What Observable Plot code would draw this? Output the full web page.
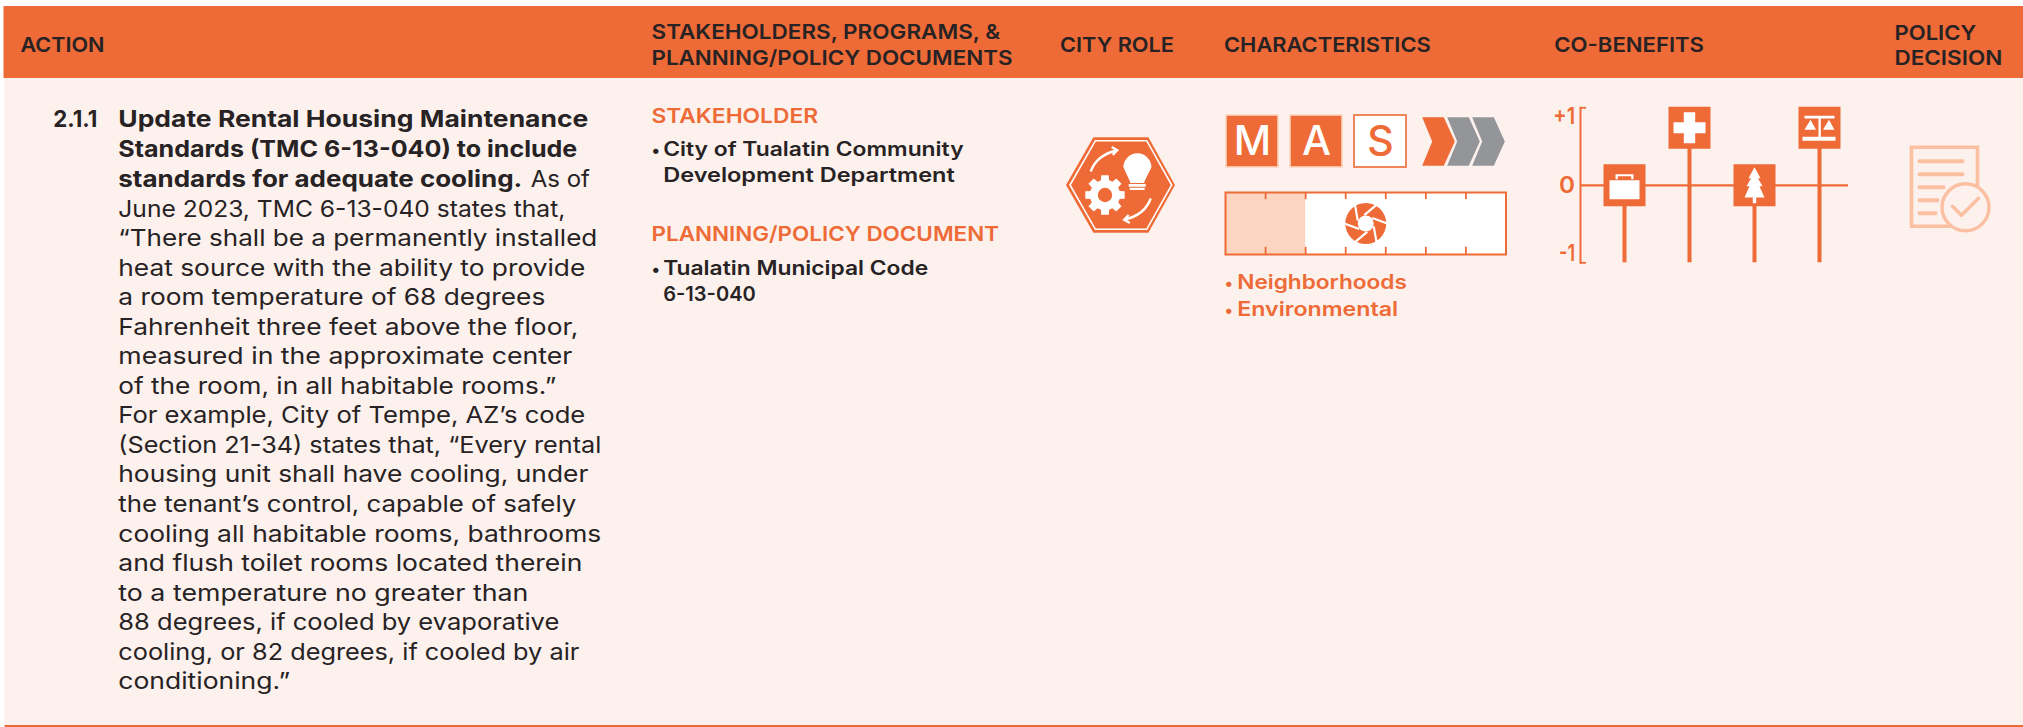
<!DOCTYPE html>
<html><head><meta charset="utf-8">
<script src="https://cdn.jsdelivr.net/npm/d3@7"></script>
<script src="https://cdn.jsdelivr.net/npm/@observablehq/plot@0.6"></script>
<style>
html,body{margin:0;padding:0;background:#fff;overflow:hidden}
#page{position:relative;width:2023px;height:727px}
#page>svg{position:absolute}
text{font-family:Inter,"Open Sans",sans-serif}
</style></head><body><div id="page"></div>
<script>
const ORANGE="#ee6a36", BODY="#fcf1ec", INK="#272224", PALE="#fbd5c0", FAINT="#fbc0a2", GREY="#949598";

const headerSingle=["ACTION","CITY ROLE","CHARACTERISTICS","CO-BENEFITS"];
const headerStake=["STAKEHOLDERS, PROGRAMS, &","PLANNING/POLICY DOCUMENTS"];
const headerPolicy=["POLICY","DECISION"];
const actionNumber="2.1.1";
const actionBold=["Update Rental Housing Maintenance","Standards (TMC 6-13-040) to include","standards for adequate cooling."];
const actionAsOf="As of";
const actionBody=["June 2023, TMC 6-13-040 states that,","“There shall be a permanently installed","heat source with the ability to provide","a room temperature of 68 degrees","Fahrenheit three feet above the floor,","measured in the approximate center","of the room, in all habitable rooms.”","For example, City of Tempe, AZ’s code","(Section 21-34) states that, “Every rental","housing unit shall have cooling, under","the tenant’s control, capable of safely","cooling all habitable rooms, bathrooms","and flush toilet rooms located therein","to a temperature no greater than","88 degrees, if cooled by evaporative","cooling, or 82 degrees, if cooled by air","conditioning.”"];
const stakeholderLines=["City of Tualatin Community","Development Department"];
const documentLines=["Tualatin Municipal Code","6-13-040"];
const focusAreas=["Neighborhoods","Environmental"];
const scaleLetters=["M","A","S"];
const scaleActive=[true,true,false];
const stages=["first","second","third"];
const stageActive=[true,false,false];
const timelineSegments=7, timelineFilled=2, timelineMarker=3.5;
const benefitNames=["Economy","Health","Environment","Equity"];
const benefitValues=[0,1,0,1];

// Montserrat is not installed: each line is fitted to the width it has in the reference
const fitWidths=new Map(Object.entries({
 "ACTION":84,"CITY ROLE":114,"CHARACTERISTICS":206.7,"CO-BENEFITS":149.7,"STAKEHOLDERS, PROGRAMS, &":348.6,"PLANNING/POLICY DOCUMENTS":361,"POLICY":81.7,"DECISION":107.7,
 "2.1.1":44,"Update Rental Housing Maintenance":470,"Standards (TMC 6-13-040) to include":459,"standards for adequate cooling.":404,"As of":59.3,
 "June 2023, TMC 6-13-040 states that,":447,"“There shall be a permanently installed":479,"heat source with the ability to provide":467,"a room temperature of 68 degrees":427,"Fahrenheit three feet above the floor,":460,"measured in the approximate center":454,"of the room, in all habitable rooms.”":438,"For example, City of Tempe, AZ’s code":467,"(Section 21-34) states that, “Every rental":483,"housing unit shall have cooling, under":470,"the tenant’s control, capable of safely":458,"cooling all habitable rooms, bathrooms":483,"and flush toilet rooms located therein":464,"to a temperature no greater than":410,"88 degrees, if cooled by evaporative":441,"cooling, or 82 degrees, if cooled by air":461,"conditioning.”":172,
 "STAKEHOLDER":166.5,"PLANNING/POLICY DOCUMENT":347.5,"City of Tualatin Community":300.4,"Development Department":291.6,"Tualatin Municipal Code":265,"6-13-040":92.6,"Neighborhoods":169.7,"Environmental":161,
 "+1":21.7,"0":16,"-1":16
}));
const fit=svg=>svg.querySelectorAll("text").forEach(t=>{
  const w=fitWidths.get(t.textContent);
  if(w){t.setAttribute("textLength",w);t.setAttribute("lengthAdjust","spacingAndGlyphs");}
});

function poly(ctx,pts){pts.forEach((p,i)=>i?ctx.lineTo(p[0],p[1]):ctx.moveTo(p[0],p[1]));ctx.closePath();}
function rectp(ctx,a,b,c,d){poly(ctx,[[a,b],[c,b],[c,d],[a,d]]);}
const sym=(draw)=>({draw});

// city role icon, units are px relative to centre
const hexOuter=sym(c=>poly(c,[[-54.7,0],[-27.3,-47.7],[27.7,-47.7],[54.3,0],[27.7,47.7],[-27.3,47.7]]));
const hexInner=sym(c=>poly(c,[[-50.7,0],[-25.3,-44.3],[26,-44.3],[51,0],[26,44.3],[-25.3,44.3]]));
const bulb=sym(c=>{c.moveTo(2.7,-17.7);c.arc(16.7,-17.7,14,Math.PI,0.0,false);c.lineTo(23.5,-3);c.lineTo(24,-2);c.lineTo(9.5,-2);c.lineTo(9.5,-3);c.closePath();rectp(c,8,-1,25,1.8);rectp(c,9,2.8,24,5);});
const gear=sym(c=>{const n=8,R=20,r=15.2,pts=[];for(let i=0;i<n;i++){const a=i*2*Math.PI/n-Math.PI/2;[[-0.27,r],[-0.19,R],[0.19,R],[0.27,r]].forEach(([d,q])=>pts.push([q*Math.cos(a+d),q*Math.sin(a+d)]));}poly(c,pts);});
const arcTop=sym(c=>{c.moveTo(-30,-13.5);c.quadraticCurveTo(-24,-30,-4,-34.5);c.moveTo(-9,-38);c.lineTo(-3.5,-34.7);c.lineTo(-8,-30);});
const arcBottom=sym(c=>{c.moveTo(30,13.5);c.quadraticCurveTo(24,30,4,34.5);c.moveTo(9,38);c.lineTo(3.5,34.7);c.lineTo(8,30);});

// policy decision icon, relative to the check circle centre
const docOutline=sym(c=>{c.moveTo(-7,19);c.lineTo(-54,19);c.lineTo(-54,-60);c.lineTo(12,-60);c.lineTo(12,-20);});
const docLines=sym(c=>{[[-46,-3,-46],[-46,-3,-33],[-46,-22,-20],[-46,-28,-7],[-46,-30,6]].forEach(([a,b,y])=>{c.moveTo(a,y);c.lineTo(b,y);});});
const checkMark=sym(c=>{c.moveTo(-13,-1);c.lineTo(-4,8);c.lineTo(13,-9);});

// co-benefit glyphs, relative to box centre
const briefcase=sym(c=>{rectp(c,-15,-5,15,14);rectp(c,-9,-11,9,-6);poly(c,[[-6.7,-9],[-6.7,-6],[6.7,-6],[6.7,-9]]);});
const cross=sym(c=>{poly(c,[[-5.7,-15.5],[5.7,-15.5],[5.7,-5.5],[16,-5.5],[16,5.5],[5.7,5.5],[5.7,15.5],[-5.7,15.5],[-5.7,5.5],[-16,5.5],[-16,-5.5],[-5.7,-5.5]]);});
const tree=sym(c=>{poly(c,[[0,-18],[6,-7],[3.5,-7],[8,1],[5,1],[10,12.3],[1.7,12.3],[1.7,18],[-1.7,18],[-1.7,12.3],[-10,12.3],[-5,1],[-8,1],[-3.5,-7],[-6,-7]]);});
const justice=sym(c=>{rectp(c,-15,-12,15,-9.3);rectp(c,-1,-9.3,1.3,9);rectp(c,-17,9,16,13);poly(c,[[-9,-8],[-3.5,2],[-15,2]]);poly(c,[[9.5,-8],[15,2],[3.5,2]]);});
const benefitGlyphs={Economy:briefcase,Health:cross,Environment:tree,Equity:justice};
// timeline marker
const blades=sym(c=>{const n=6,r=8.5,R=21;for(let i=0;i<n;i++){const a=i*Math.PI/3+0.35,b=a+Math.PI/3;const x=r*Math.cos(a),y=r*Math.sin(a);c.moveTo(x,y);c.lineTo(x+R*Math.cos(b),y+R*Math.sin(b));}});
const chevron=sym(c=>poly(c,[[-16.3,-24.2],[5.3,-24.2],[16.3,0],[5.3,24.2],[-16.3,24.2],[-6.3,0]]));

const page=document.getElementById("page");
function place(svg,left,top){svg.style.left=left+"px";svg.style.top=top+"px";page.appendChild(svg);fit(svg);}
const clear={background:"transparent",overflow:"visible"};

// Sheet: header band, body panel and every block of text
const lineY=(start,step)=>(d,i)=>start+i*step;
const T=(data,o)=>Plot.text(data,{text:d=>d,lineAnchor:"bottom",textAnchor:"start",...o});
const HEAD={fontSize:20.5,fontWeight:600,fill:INK};
const LIST={fontSize:20,fontWeight:600};
const sheet=Plot.plot({
  width:2023,height:727,margin:0,style:clear,
  x:{domain:[0,2023],range:[0,2023],axis:null},
  y:{domain:[0,727],range:[0,727],axis:null},
  marks:[
    Plot.rect([0],{x1:4.5,x2:2023,y1:78,y2:725,fill:BODY}),
    Plot.rect([0],{x1:3.5,x2:2023,y1:6,y2:78,fill:ORANGE}),
    Plot.rect([0],{x1:4.5,x2:2023,y1:725,y2:727,fill:ORANGE}),
    T(headerSingle,{x:[20,1059.5,1223.5,1553.8],y:51.3,...HEAD}),
    T(headerStake,{x:651,y:lineY(38.7,25.5),...HEAD}),
    T(headerPolicy,{x:1894,y:lineY(39,25.5),...HEAD}),
    T([actionNumber],{x:52.8,y:126.7,fontSize:23,fontWeight:700,fill:INK}),
    T(actionBold,{x:117.8,y:lineY(126.7,30),fontSize:23,fontWeight:700,fill:INK}),
    T([actionAsOf],{x:530.2,y:186.7,fontSize:23,fontWeight:400,fill:INK}),
    T(actionBody,{x:117.8,y:lineY(216,29.55),fontSize:23,fontWeight:400,fill:INK}),
    T(["STAKEHOLDER"],{x:651,y:122.7,...HEAD,fill:ORANGE}),
    T(["•"],{x:651,y:155.7,fontSize:17,fontWeight:600,fill:INK}),
    T(stakeholderLines,{x:662.7,y:lineY(155.7,26),...LIST,fill:INK}),
    T(["PLANNING/POLICY DOCUMENT"],{x:651,y:240.7,...HEAD,fill:ORANGE}),
    T(["•"],{x:651,y:274,fontSize:17,fontWeight:600,fill:INK}),
    T(documentLines,{x:662.7,y:lineY(274,26),...LIST,fill:INK}),
    T(focusAreas.map(()=>"•"),{x:1224,y:lineY(288,27.7),fontSize:17,fontWeight:600,fill:ORANGE}),
    T(focusAreas,{x:1236.7,y:lineY(288,27.7),...LIST,fill:ORANGE}),
    // city role emblem
    Plot.dot([0],{x:()=>1120.2,y:()=>184.5,symbol:hexOuter,fill:ORANGE,r:10}),
    Plot.dot([0],{x:()=>1120.2,y:()=>184.5,symbol:hexInner,fill:"none",stroke:"#fff",strokeWidth:1.6,r:10}),
    Plot.dot([0],{x:()=>1120.2,y:()=>184.5,symbol:bulb,fill:"#fff",r:10}),
    Plot.dot([0],{x:()=>1104.5,y:()=>194.5,symbol:gear,fill:"#fff",r:10}),
    Plot.dot([0],{x:()=>1104.5,y:()=>194.5,r:7.2,fill:ORANGE}),
    Plot.dot([0],{x:()=>1120.2,y:()=>184.5,symbol:arcTop,fill:"none",stroke:"#fff",strokeWidth:2.4,r:10}),
    Plot.dot([0],{x:()=>1120.2,y:()=>184.5,symbol:arcBottom,fill:"none",stroke:"#fff",strokeWidth:2.4,r:10}),
    // policy decision emblem
    Plot.dot([0],{x:()=>1965,y:()=>206.8,symbol:docOutline,fill:"none",stroke:FAINT,strokeWidth:3.6,r:10}),
    Plot.dot([0],{x:()=>1965,y:()=>206.8,symbol:docLines,fill:"none",stroke:FAINT,strokeWidth:4,strokeLinecap:"round",r:10}),
    Plot.dot([0],{x:()=>1965,y:()=>206.8,r:23.5,fill:BODY,stroke:FAINT,strokeWidth:3.4}),
    Plot.dot([0],{x:()=>1965,y:()=>206.8,symbol:checkMark,fill:"none",stroke:FAINT,strokeWidth:3.4,strokeLinecap:"round",strokeLinejoin:"round",r:10})
  ]
});
place(sheet,0,0);

// Scale letters
const scaleRows=scaleLetters.map((l,i)=>({letter:l,active:scaleActive[i]}));
place(Plot.plot({
  width:181,height:52,margin:0,style:clear,
  x:{domain:scaleLetters,range:[0,181],paddingInner:0.19,paddingOuter:0,axis:null},
  marks:[
    Plot.cell(scaleRows,{x:"letter",fill:d=>d.active?ORANGE:"#fff",stroke:d=>d.active?PALE:ORANGE,strokeWidth:1.6}),
    Plot.text(scaleRows,{x:"letter",frameAnchor:"middle",text:"letter",fontSize:41,fontWeight:500,fill:d=>d.active?"#fff":ORANGE})
  ]
}),1225,115);

// Progress chevrons
const stageRows=stages.map((s,i)=>({stage:s,active:stageActive[i]}));
place(Plot.plot({
  width:84,height:52,margin:0,style:clear,
  x:{type:"point",domain:stages,range:[16.5,68],padding:0,axis:null},
  marks:[
    Plot.dot(stageRows,{x:"stage",frameAnchor:"middle",symbol:chevron,r:10,fill:d=>d.active?ORANGE:GREY})
  ]
}),1421,115);

// Timeline bar
const segEdges=d3.range(1,timelineSegments);
place(Plot.plot({
  width:280.5,height:62,margin:0,style:clear,
  x:{domain:[0,timelineSegments],range:[0,280.5],axis:null},
  y:{domain:[0,1],range:[62,0],axis:null},
  marks:[
    Plot.rect([0],{x1:0,x2:timelineSegments,y1:0,y2:1,fill:"#fff"}),
    Plot.rect([0],{x1:0,x2:timelineFilled,y1:0,y2:1,fill:PALE}),
    Plot.ruleX(segEdges,{y1:0,y2:0.115,stroke:ORANGE,strokeWidth:1.8}),
    Plot.ruleX(segEdges,{y1:0.885,y2:1,stroke:ORANGE,strokeWidth:1.8}),
    Plot.frame({stroke:ORANGE,strokeWidth:2}),
    Plot.dot([timelineMarker],{x:d=>d,y:()=>0.5,r:20.5,fill:ORANGE}),
    Plot.dot([timelineMarker],{x:d=>d,y:()=>0.5,r:8,fill:"#fff"}),
    Plot.dot([timelineMarker],{x:d=>d,y:()=>0.5,symbol:blades,r:10,fill:"none",stroke:"#fff",strokeWidth:2.2})
  ]
}),1225,192.2);

// Co-benefit lollipops
const benefits=benefitNames.map((n,i)=>({name:n,value:benefitValues[i]}));
const boxRadius=42/Math.sqrt(Math.PI);
const plotW=320,left=50;
const boxes=(test,dy)=>{
  const rows=benefits.filter(test);
  return [
    Plot.dot(rows,{x:"name",y:"value",dy,symbol:"square",r:boxRadius,fill:ORANGE}),
    ...rows.map(d=>Plot.dot([d],{x:"name",y:"value",dy,symbol:benefitGlyphs[d.name],r:10,fill:"#fff"}))
  ];
};
const tickLabel=(v,dy)=>Plot.text([v],{x:()=>benefitNames[0],y:d=>d,dx:-49.5,dy,text:d=>d>0?"+1":String(d),textAnchor:"end",lineAnchor:"middle",fontSize:23,fontWeight:600,fill:ORANGE});
place(Plot.plot({
  width:plotW,height:190,marginLeft:left,marginRight:0,marginTop:17.3,marginBottom:17.7,style:clear,
  x:{type:"point",domain:benefitNames,range:[93.5,289.5],padding:0,axis:null},
  y:{domain:[-1,1],axis:null},
  marks:[
    Plot.ruleY([-1,1],{stroke:ORANGE,strokeWidth:1.8,insetRight:plotW-left-6}),
    Plot.ruleY([0],{stroke:ORANGE,strokeWidth:2.2,insetRight:2}),
    Plot.frame({anchor:"left",stroke:ORANGE,strokeWidth:2}),
    Plot.ruleX(benefits,{x:"name",y1:-1,y2:"value",stroke:ORANGE,strokeWidth:4}),
    ...boxes(d=>d.value===0,0),
    ...boxes(d=>d.value>0,20),
    tickLabel(1,9),tickLabel(0,0),tickLabel(-1,-9)
  ]
}),1530,90);
</script></body></html>
